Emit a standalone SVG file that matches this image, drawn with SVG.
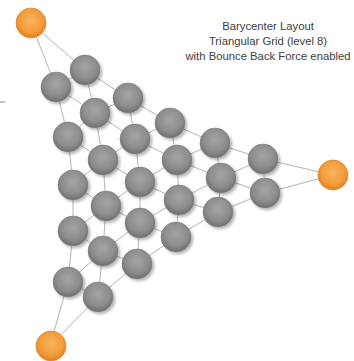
<svg xmlns="http://www.w3.org/2000/svg" width="354" height="361" viewBox="0 0 354 361">
  <defs>
    <radialGradient id="gGray" cx="50%" cy="40%" r="60%">
      <stop offset="0" stop-color="#a4a4a4"/>
      <stop offset="0.65" stop-color="#8d8d8d"/>
      <stop offset="1" stop-color="#6e6e6e"/>
    </radialGradient>
    <radialGradient id="gOrange" cx="50%" cy="42%" r="58%">
      <stop offset="0" stop-color="#f9b45c"/>
      <stop offset="0.7" stop-color="#f39a3a"/>
      <stop offset="1" stop-color="#e07d22"/>
    </radialGradient>
    <filter id="shadow" x="-30%" y="-30%" width="170%" height="170%">
      <feGaussianBlur in="SourceAlpha" stdDeviation="1.6"/>
      <feOffset dx="1.5" dy="2" result="b"/>
      <feComponentTransfer><feFuncA type="linear" slope="0.3"/></feComponentTransfer>
      <feMerge><feMergeNode/><feMergeNode in="SourceGraphic"/></feMerge>
    </filter>
  </defs>
  <style>
    .edge { stroke: #b4b4b4; stroke-width: 1; fill: none; }
    .gray { fill: url(#gGray); stroke: #7c7c7c; stroke-width: 0.6; filter: url(#shadow); }
    .corner { fill: url(#gOrange); stroke: #e08a2e; stroke-width: 0.8; }
    .title { font-family: "Liberation Sans", Arial, sans-serif; font-size: 11.3px; fill: #404040; text-anchor: middle; }
  </style>

  <rect width="354" height="361" fill="#ffffff"/>

  <!-- small dash at the left margin -->
  <line x1="0" y1="102" x2="5" y2="102" stroke="#9a9a9a" stroke-width="1.2"/>

  <text class="title" x="268" y="30">Barycenter Layout</text>
  <text class="title" x="268" y="45">Triangular Grid (level 8)</text>
  <text class="title" x="268" y="60">with Bounce Back Force enabled</text>

  <g id="connectors">
    <!-- lattice lines toward the right corner -->
    <line class="edge" x1="31" y1="23" x2="85" y2="70"/>
    <line class="edge" x1="85" y1="70" x2="128" y2="98"/>
    <line class="edge" x1="128" y1="98" x2="170" y2="123"/>
    <line class="edge" x1="170" y1="123" x2="215" y2="143"/>
    <line class="edge" x1="215" y1="143" x2="263" y2="159"/>
    <line class="edge" x1="263" y1="159" x2="333" y2="175"/>
    <line class="edge" x1="56" y1="87" x2="95" y2="113"/>
    <line class="edge" x1="95" y1="113" x2="135" y2="139"/>
    <line class="edge" x1="135" y1="139" x2="177" y2="160"/>
    <line class="edge" x1="177" y1="160" x2="221" y2="178"/>
    <line class="edge" x1="221" y1="178" x2="265" y2="193"/>
    <line class="edge" x1="68" y1="137" x2="103" y2="160"/>
    <line class="edge" x1="103" y1="160" x2="140" y2="182"/>
    <line class="edge" x1="140" y1="182" x2="179" y2="200"/>
    <line class="edge" x1="179" y1="200" x2="218" y2="212"/>
    <line class="edge" x1="73" y1="185" x2="106" y2="206"/>
    <line class="edge" x1="106" y1="206" x2="140" y2="223"/>
    <line class="edge" x1="140" y1="223" x2="176" y2="237"/>
    <line class="edge" x1="73" y1="231" x2="103" y2="251"/>
    <line class="edge" x1="103" y1="251" x2="137" y2="264"/>
    <line class="edge" x1="68" y1="282" x2="98" y2="297"/>
    <!-- lattice lines toward the bottom corner -->
    <line class="edge" x1="31" y1="23" x2="56" y2="87"/>
    <line class="edge" x1="56" y1="87" x2="68" y2="137"/>
    <line class="edge" x1="68" y1="137" x2="73" y2="185"/>
    <line class="edge" x1="73" y1="185" x2="73" y2="231"/>
    <line class="edge" x1="73" y1="231" x2="68" y2="282"/>
    <line class="edge" x1="68" y1="282" x2="50" y2="346"/>
    <line class="edge" x1="85" y1="70" x2="95" y2="113"/>
    <line class="edge" x1="95" y1="113" x2="103" y2="160"/>
    <line class="edge" x1="103" y1="160" x2="106" y2="206"/>
    <line class="edge" x1="106" y1="206" x2="103" y2="251"/>
    <line class="edge" x1="103" y1="251" x2="98" y2="297"/>
    <line class="edge" x1="128" y1="98" x2="135" y2="139"/>
    <line class="edge" x1="135" y1="139" x2="140" y2="182"/>
    <line class="edge" x1="140" y1="182" x2="140" y2="223"/>
    <line class="edge" x1="140" y1="223" x2="137" y2="264"/>
    <line class="edge" x1="170" y1="123" x2="177" y2="160"/>
    <line class="edge" x1="177" y1="160" x2="179" y2="200"/>
    <line class="edge" x1="179" y1="200" x2="176" y2="237"/>
    <line class="edge" x1="215" y1="143" x2="221" y2="178"/>
    <line class="edge" x1="221" y1="178" x2="218" y2="212"/>
    <line class="edge" x1="263" y1="159" x2="265" y2="193"/>
    <!-- lattice lines across each row -->
    <line class="edge" x1="56" y1="87" x2="85" y2="70"/>
    <line class="edge" x1="68" y1="137" x2="95" y2="113"/>
    <line class="edge" x1="95" y1="113" x2="128" y2="98"/>
    <line class="edge" x1="73" y1="185" x2="103" y2="160"/>
    <line class="edge" x1="103" y1="160" x2="135" y2="139"/>
    <line class="edge" x1="135" y1="139" x2="170" y2="123"/>
    <line class="edge" x1="73" y1="231" x2="106" y2="206"/>
    <line class="edge" x1="106" y1="206" x2="140" y2="182"/>
    <line class="edge" x1="140" y1="182" x2="177" y2="160"/>
    <line class="edge" x1="177" y1="160" x2="215" y2="143"/>
    <line class="edge" x1="68" y1="282" x2="103" y2="251"/>
    <line class="edge" x1="103" y1="251" x2="140" y2="223"/>
    <line class="edge" x1="140" y1="223" x2="179" y2="200"/>
    <line class="edge" x1="179" y1="200" x2="221" y2="178"/>
    <line class="edge" x1="221" y1="178" x2="263" y2="159"/>
    <line class="edge" x1="50" y1="346" x2="98" y2="297"/>
    <line class="edge" x1="98" y1="297" x2="137" y2="264"/>
    <line class="edge" x1="137" y1="264" x2="176" y2="237"/>
    <line class="edge" x1="176" y1="237" x2="218" y2="212"/>
    <line class="edge" x1="218" y1="212" x2="265" y2="193"/>
    <line class="edge" x1="265" y1="193" x2="333" y2="175"/>
  </g>

  <!-- corner nodes -->
  <g id="n0_0"><circle class="corner" cx="31" cy="23" r="15"/></g>
  <g id="n6_0"><circle class="corner" cx="333" cy="175" r="15"/></g>
  <g id="n0_6"><circle class="corner" cx="51" cy="346" r="15"/></g>

  <!-- inner nodes -->
  <g id="n1_0"><circle class="gray" cx="85" cy="70" r="15"/></g>
  <g id="n0_1"><circle class="gray" cx="56" cy="87" r="15"/></g>
  <g id="n2_0"><circle class="gray" cx="128" cy="98" r="15"/></g>
  <g id="n1_1"><circle class="gray" cx="95" cy="113" r="15"/></g>
  <g id="n0_2"><circle class="gray" cx="68" cy="137" r="15"/></g>
  <g id="n3_0"><circle class="gray" cx="170" cy="123" r="15"/></g>
  <g id="n2_1"><circle class="gray" cx="135" cy="139" r="15"/></g>
  <g id="n1_2"><circle class="gray" cx="103" cy="160" r="15"/></g>
  <g id="n0_3"><circle class="gray" cx="73" cy="185" r="15"/></g>
  <g id="n4_0"><circle class="gray" cx="215" cy="143" r="15"/></g>
  <g id="n3_1"><circle class="gray" cx="177" cy="160" r="15"/></g>
  <g id="n2_2"><circle class="gray" cx="140" cy="182" r="15"/></g>
  <g id="n1_3"><circle class="gray" cx="106" cy="206" r="15"/></g>
  <g id="n0_4"><circle class="gray" cx="73" cy="231" r="15"/></g>
  <g id="n5_0"><circle class="gray" cx="263" cy="159" r="15"/></g>
  <g id="n4_1"><circle class="gray" cx="221" cy="178" r="15"/></g>
  <g id="n3_2"><circle class="gray" cx="179" cy="200" r="15"/></g>
  <g id="n2_3"><circle class="gray" cx="140" cy="223" r="15"/></g>
  <g id="n1_4"><circle class="gray" cx="103" cy="251" r="15"/></g>
  <g id="n0_5"><circle class="gray" cx="68" cy="282" r="15"/></g>
  <g id="n5_1"><circle class="gray" cx="265" cy="193" r="15"/></g>
  <g id="n4_2"><circle class="gray" cx="218" cy="212" r="15"/></g>
  <g id="n3_3"><circle class="gray" cx="176" cy="237" r="15"/></g>
  <g id="n2_4"><circle class="gray" cx="137" cy="264" r="15"/></g>
  <g id="n1_5"><circle class="gray" cx="98" cy="297" r="15"/></g>
</svg>
